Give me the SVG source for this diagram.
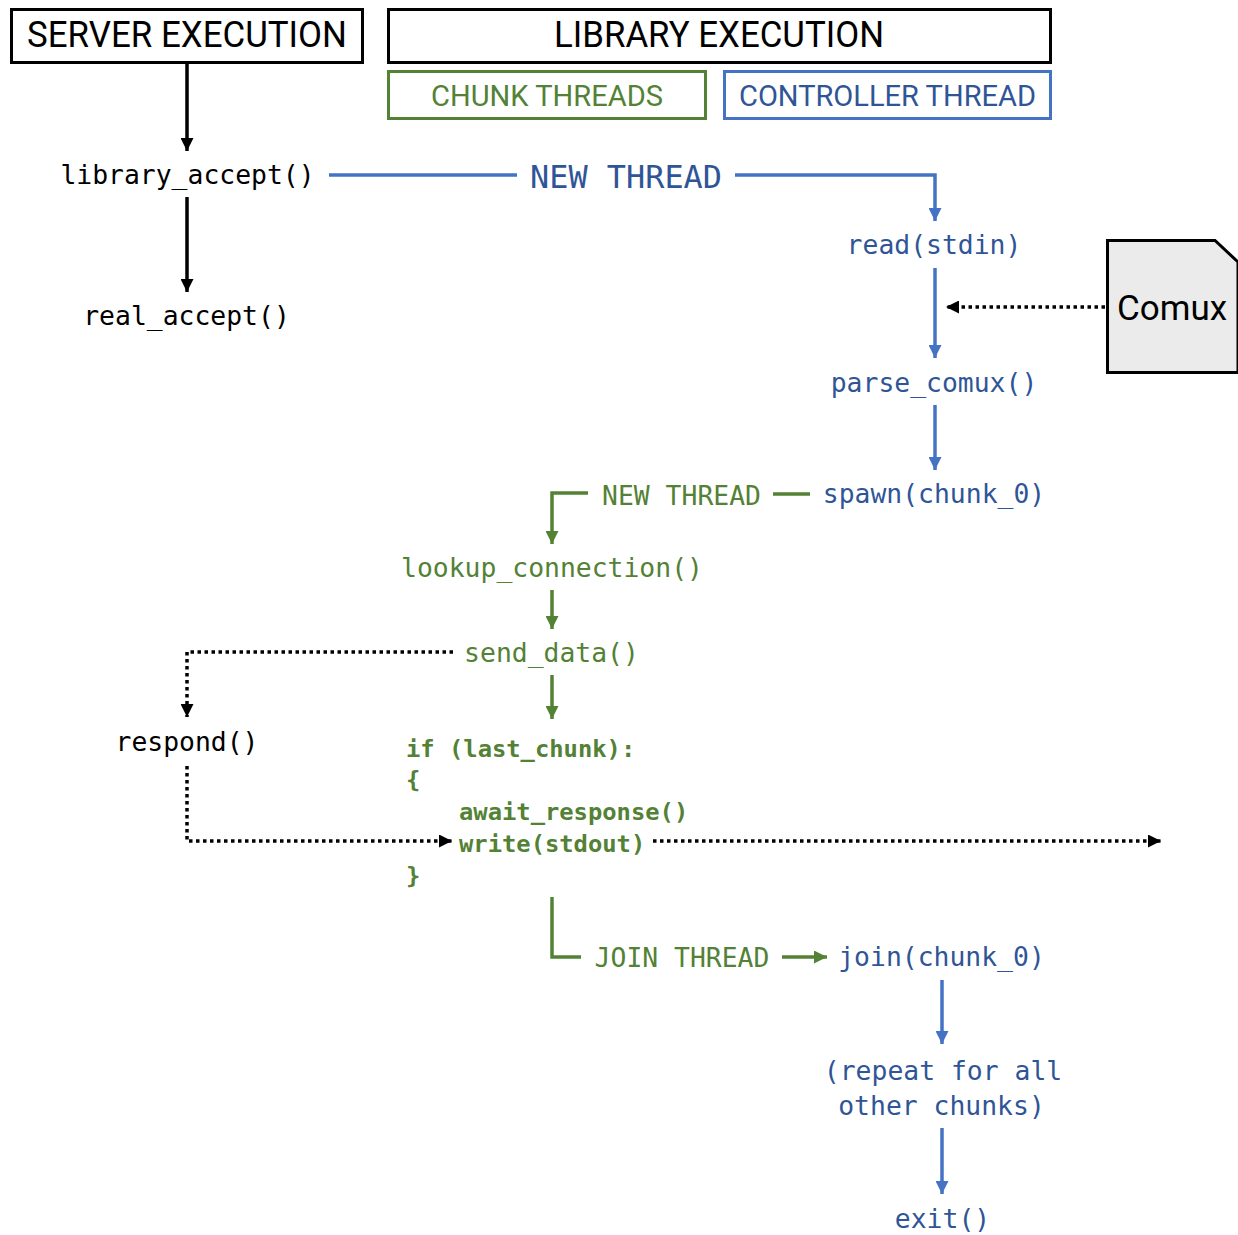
<svg xmlns="http://www.w3.org/2000/svg" width="1238" height="1235" viewBox="0 0 1238 1235">
<defs>
<style>
.hdr{font-family:Roboto,"Liberation Sans",sans-serif;text-anchor:middle}
.mono{font-family:"DejaVu Sans Mono","Liberation Mono",monospace;font-size:26.4px}
.bold{font-family:"DejaVu Sans Mono","Liberation Mono",monospace;font-size:23.8px;font-weight:bold;fill:#538135}
.c{text-anchor:middle}
.blk{fill:#000}
.blu{fill:#2F5597}
.grn{fill:#538135}
.lk{stroke:#000;stroke-width:3.5;fill:none}
.lb{stroke:#4472C4;stroke-width:3.5;fill:none}
.lg{stroke:#548235;stroke-width:3.5;fill:none}
.dot{stroke:#000;stroke-width:3.5;fill:none;stroke-dasharray:3.5 3.5}
</style>
<marker id="ak" viewBox="0 0 12 12" refX="12" refY="6" markerWidth="13" markerHeight="13" markerUnits="userSpaceOnUse" orient="auto"><path d="M0,0 L12,6 L0,12 Z" fill="#000"/></marker>
<marker id="ab" viewBox="0 0 12 12" refX="12" refY="6" markerWidth="13" markerHeight="13" markerUnits="userSpaceOnUse" orient="auto"><path d="M0,0 L12,6 L0,12 Z" fill="#4472C4"/></marker>
<marker id="ag" viewBox="0 0 12 12" refX="12" refY="6" markerWidth="13" markerHeight="13" markerUnits="userSpaceOnUse" orient="auto"><path d="M0,0 L12,6 L0,12 Z" fill="#548235"/></marker>
</defs>
<rect width="1238" height="1235" fill="#fff"/>

<g id="server-execution"><rect x="11.5" y="9.5" width="351" height="53" fill="#fff" stroke="#000" stroke-width="3"/><text class="hdr blk" x="187" y="47" font-size="36" textLength="320" lengthAdjust="spacingAndGlyphs">SERVER EXECUTION</text></g>
<g id="library-execution"><rect x="388.5" y="9.5" width="662" height="53" fill="#fff" stroke="#000" stroke-width="3"/><text class="hdr blk" x="719" y="47" font-size="36" textLength="330" lengthAdjust="spacingAndGlyphs">LIBRARY EXECUTION</text></g>
<g id="chunk-threads"><rect x="388.5" y="71.5" width="317" height="47" fill="#fff" stroke="#548235" stroke-width="3"/><text class="hdr grn" x="547" y="106" font-size="29.5" textLength="232" lengthAdjust="spacingAndGlyphs">CHUNK THREADS</text></g>
<g id="controller-thread"><rect x="724.5" y="71.5" width="326" height="47" fill="#fff" stroke="#4472C4" stroke-width="3"/><text class="hdr blu" x="887.5" y="106" font-size="29.5" textLength="297" lengthAdjust="spacingAndGlyphs">CONTROLLER THREAD</text></g>

<g id="connectors">
<line class="lk" x1="187" y1="62" x2="187" y2="151" marker-end="url(#ak)"/>
<line class="lk" x1="187" y1="197" x2="187" y2="292" marker-end="url(#ak)"/>
<line class="lb" x1="329" y1="175" x2="517" y2="175"/>
<polyline class="lb" points="735,175 935,175 935,221" marker-end="url(#ab)"/>
<line class="lb" x1="935" y1="268" x2="935" y2="358" marker-end="url(#ab)"/>
<line class="dot" x1="1105" y1="307" x2="946" y2="307" marker-end="url(#ak)"/>
<line class="lb" x1="935" y1="405" x2="935" y2="470" marker-end="url(#ab)"/>
<line class="lg" x1="773" y1="494" x2="810" y2="494"/>
<polyline class="lg" points="588,493 552,493 552,544" marker-end="url(#ag)"/>
<line class="lg" x1="552" y1="590" x2="552" y2="629" marker-end="url(#ag)"/>
<line class="lg" x1="552" y1="675" x2="552" y2="719" marker-end="url(#ag)"/>
<polyline class="dot" points="453,652 187,652 187,717" marker-end="url(#ak)"/>
<polyline class="dot" points="187,766 187,841 452,841" marker-end="url(#ak)"/>
<line class="dot" x1="653" y1="841" x2="1161" y2="841" marker-end="url(#ak)"/>
<polyline class="lg" points="552,897 552,957 581,957"/>
<line class="lg" x1="782" y1="957" x2="827" y2="957" marker-end="url(#ag)"/>
<line class="lb" x1="942" y1="980" x2="942" y2="1044" marker-end="url(#ab)"/>
<line class="lb" x1="942" y1="1128" x2="942" y2="1194" marker-end="url(#ab)"/>
</g>

<g id="library-accept"><text class="mono c blk" x="187.5" y="184">library_accept()</text></g>
<g id="real-accept"><text class="mono c blk" x="186.5" y="325">real_accept()</text></g>
<g id="new-thread-blue"><text class="c blu" x="626" y="188" font-family="DejaVu Sans Mono,Liberation Mono,monospace" font-size="31.9">NEW THREAD</text></g>
<g id="read-stdin"><text class="mono c blu" x="934" y="254">read(stdin)</text></g>
<g id="comux"><path d="M1107.5,240.5 L1215,240.5 L1238,262 L1238,372.5 L1107.5,372.5 Z" fill="#EBEBEB" stroke="#000" stroke-width="3"/><text class="hdr blk" x="1172" y="320" font-size="35">Comux</text></g>
<g id="parse-comux"><text class="mono c blu" x="934" y="392">parse_comux()</text></g>
<g id="spawn-chunk"><text class="mono c blu" x="934" y="503">spawn(chunk_0)</text></g>
<g id="new-thread-green"><text class="mono c grn" x="681.5" y="505">NEW THREAD</text></g>
<g id="lookup-connection"><text class="mono c grn" x="552" y="577">lookup_connection()</text></g>
<g id="send-data"><text class="mono c grn" x="551.5" y="662">send_data()</text></g>
<g id="respond"><text class="mono c blk" x="187" y="751">respond()</text></g>
<g id="last-chunk-block">
<text class="bold" x="406" y="757">if (last_chunk):</text>
<text class="bold" x="406" y="788">{</text>
<text class="bold" x="459" y="820">await_response()</text>
<text class="bold" x="459" y="852">write(stdout)</text>
<text class="bold" x="406" y="884">}</text>
</g>
<g id="join-thread"><text class="mono c grn" x="682" y="967">JOIN THREAD</text></g>
<g id="join-chunk"><text class="mono c blu" x="941.5" y="966">join(chunk_0)</text></g>
<g id="repeat"><text class="mono c blu" x="943" y="1080">(repeat for all</text><text class="mono c blu" x="941.5" y="1115">other chunks)</text></g>
<g id="exit"><text class="mono c blu" x="942.5" y="1228">exit()</text></g>
</svg>
